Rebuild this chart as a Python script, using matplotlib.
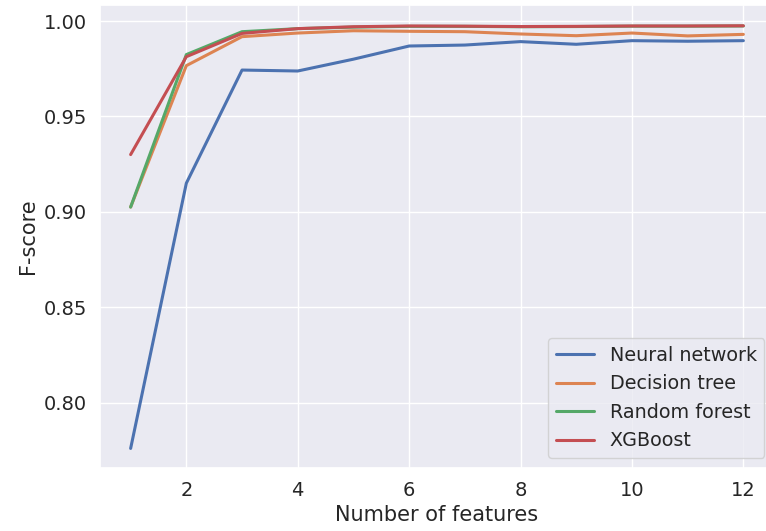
import matplotlib
matplotlib.use("Agg")
import matplotlib.pyplot as plt
import seaborn as sns

sns.set_theme(style="darkgrid")
plt.rcParams['font.family'] = ['DejaVu Sans']

features = [1, 2, 3, 4, 5, 6, 7, 8, 9, 10, 11, 12]
neural_network = [0.776, 0.915, 0.9743, 0.9738, 0.980, 0.9869, 0.9874, 0.9892, 0.9878, 0.9897, 0.9894, 0.9897]
decision_tree = [0.9025, 0.9766, 0.9918, 0.9937, 0.9949, 0.9946, 0.9944, 0.9932, 0.9923, 0.9937, 0.9922, 0.9930]
random_forest = [0.9025, 0.9824, 0.9944, 0.9960, 0.9968, 0.9972, 0.9972, 0.9970, 0.9971, 0.9973, 0.9973, 0.9974]
xgboost = [0.930, 0.9813, 0.9935, 0.9960, 0.9970, 0.9974, 0.9973, 0.9971, 0.9972, 0.9974, 0.9974, 0.9975]

series = [
    ("Neural network", neural_network),
    ("Decision tree", decision_tree),
    ("Random forest", random_forest),
    ("XGBoost", xgboost),
]

fig = plt.figure(figsize=(7.66, 5.31), dpi=100)
ax = fig.add_axes([100 / 766, 63.3 / 531, 674 / 766, 463.1 / 531])
colors = sns.color_palette("deep")
for (name, vals), c in zip(series, colors):
    ax.plot(features, vals, label=name, color=c, linewidth=2.2)

ax.set_xlabel("Number of features", fontsize=15)
ax.set_ylabel("F-score", fontsize=15)
ax.tick_params(axis='both', labelsize=14)
ax.set_xticks([2, 4, 6, 8, 10, 12])
ax.set_yticks([0.80, 0.85, 0.90, 0.95, 1.00])
ax.set_xlim(0.45, 12.55)
ax.set_ylim(0.7659, 1.0086)
ax.legend(loc="lower right", fontsize=13.8)

fig.savefig("out.png", dpi=100)
